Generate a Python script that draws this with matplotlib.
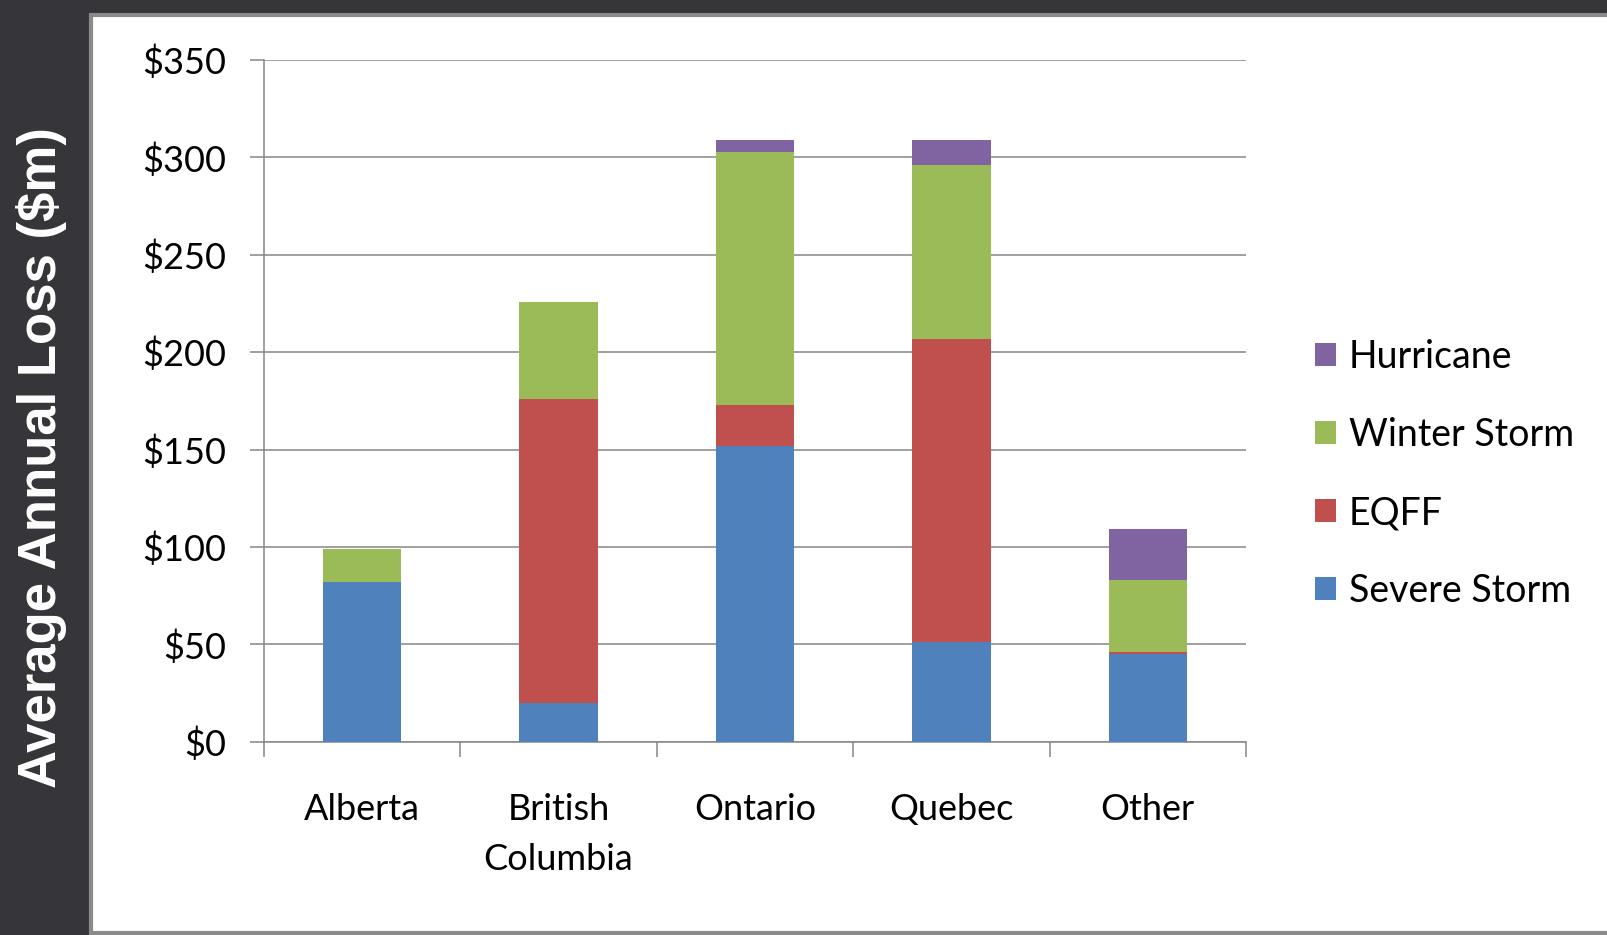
import matplotlib
matplotlib.use("Agg")
import matplotlib.pyplot as plt
from matplotlib.patches import Rectangle, Patch
import numpy as np

# Average annual loss by province and peril ($ millions)
provinces = ["Alberta", "British\nColumbia", "Ontario", "Quebec", "Other"]
severe_storm = [82, 20, 152, 51, 45]
eqff = [0, 156, 21, 156, 1]
winter_storm = [17, 50, 130, 89, 37]
hurricane = [0, 0, 6, 13, 26]

series = [
    ("Severe Storm", severe_storm, "#4F81BD"),
    ("EQFF", eqff, "#C0504D"),
    ("Winter Storm", winter_storm, "#9BBB59"),
    ("Hurricane", hurricane, "#8064A2"),
]
y_ticks = [0, 50, 100, 150, 200, 250, 300, 350]
y_tick_labels = ["$0", "$50", "$100", "$150", "$200", "$250", "$300", "$350"]

W, H = 1608, 935
fig = plt.figure(figsize=(W / 100, H / 100), dpi=100)
fig.patch.set_facecolor("#36353A")

# White slide panel with grey border
panel = Rectangle((91.5 / W, 2 / H), 1.2, 1 - 15 / H - 2 / H,
                  transform=fig.transFigure, facecolor="white",
                  edgecolor="#8A8A8A", linewidth=3.0, zorder=-10)
fig.patches.append(panel)

ax = fig.add_axes([264 / W, 1 - 741.7 / H, (1246 - 264) / W, (741.7 - 60) / H])
ax.set_facecolor("none")

grid_c = "#868686"
x = np.arange(len(provinces))
bottom = np.zeros(len(provinces))
for name, vals, col in series:
    ax.bar(x, vals, width=0.4, bottom=bottom, color=col, label=name, zorder=3)
    bottom += np.array(vals)

ax.set_xlim(-0.5, len(provinces) - 0.5)
ax.set_ylim(0, 350)
ax.set_yticks(y_ticks)
ax.set_yticklabels(y_tick_labels)
ax.yaxis.grid(True, color=grid_c, linewidth=1.1, zorder=1)
ax.set_axisbelow(True)

for s in ["top", "right"]:
    ax.spines[s].set_visible(False)
for s in ["left", "bottom"]:
    ax.spines[s].set_color(grid_c)
    ax.spines[s].set_linewidth(1.1)

font = "Lato"
ax.tick_params(axis="y", length=10, width=1.1, color=grid_c, pad=17,
               labelsize=26, labelcolor="black")
for t in ax.get_yticklabels():
    t.set_fontfamily(font)

ax.set_xticks(x)
ax.set_xticklabels(provinces, fontfamily=font, fontsize=26, linespacing=1.62,
                   va="top")
ax.tick_params(axis="x", which="major", length=0, pad=37)
ax.set_xticks(np.arange(-0.5, len(provinces)), minor=True)
ax.tick_params(axis="x", which="minor", length=11, width=1.1, color=grid_c)

handles = [Patch(facecolor=col, label=name) for name, _, col in reversed(series)]
leg = fig.legend(handles=handles, loc="center left",
                 bbox_to_anchor=(1315 / W, 1 - 474 / H), frameon=False,
                 prop={"family": font, "size": 27}, handlelength=0.55,
                 handleheight=0.55, handletextpad=0.35, labelspacing=1.12,
                 borderaxespad=0, borderpad=0)

fig.text(42 / W, 1 - 458 / H, "Average Annual Loss ($m)", rotation=90,
         color="white", fontsize=38, fontweight="bold",
         fontfamily="Liberation Sans", ha="center", va="center")

fig.savefig("out.png", dpi=100, facecolor=fig.get_facecolor())
